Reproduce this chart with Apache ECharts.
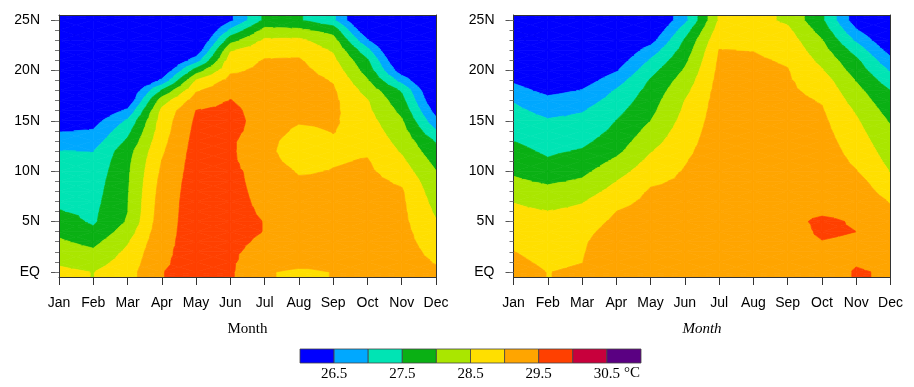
<!DOCTYPE html>
<html><head><meta charset="utf-8">
<script src="https://cdn.jsdelivr.net/npm/echarts@6/dist/echarts.min.js"></script>
<style>html,body{margin:0;padding:0;background:#fff}#c{width:914px;height:387px}</style>
</head><body><div id="c"></div>
<script>
// ---------- data ----------
const months = ['Jan','Feb','Mar','Apr','May','Jun','Jul','Aug','Sep','Oct','Nov','Dec'];
const lats = [0,1,2,3,4,5,6,7,8,9,10,11,12,13,14,15,16,17,18,19,20,21,22,23,24,25];
const latTicks = [0,5,10,15,20,25];
const latTickLabels = ['EQ','5N','10N','15N','20N','25N'];
const levels = [26.5,27,27.5,28,28.5,29,29.5,30,30.5];
const bandColors = ['#0000fe','#00a8ff','#00e4b4','#0ab014','#aae600','#ffdf00','#ffa500','#ff4000','#c8003c','#5a0082'];
const colorbarTicks = [26.5,27.5,28.5,29.5,30.5];
const panelLabels = ['(a)','(b)'];

// SST (°C) at each month (rows) and latitude 0..25N (columns), panel (a)
const sstA = [
 [28.6,28.43,28.25,28.07,27.89,27.72,27.52,27.42,27.37,27.29,27.2,27.1,27.01,26.76,26.47,26.2,25.95,25.75,25.6,25.45,25.3,25.2,25.1,25.0,24.9,24.8],
 [28.49,28.3,28.08,27.86,27.6,27.43,27.4,27.35,27.3,27.25,27.17,27.09,26.99,26.76,26.54,26.3,26.05,25.8,25.6,25.45,25.3,25.2,25.1,25.0,24.9,24.8],
 [28.8,28.7,28.6,28.45,28.25,28.05,27.99,27.98,27.96,27.94,27.92,27.88,27.8,27.58,27.35,27.08,26.6,26.1,25.9,25.7,25.5,25.35,25.2,25.1,25.0,24.9],
 [29.49,29.45,29.42,29.38,29.34,29.3,29.27,29.24,29.2,29.15,29.08,29.01,28.93,28.85,28.77,28.72,28.62,28.27,27.57,26.6,26.0,25.7,25.5,25.3,25.2,25.1],
 [29.62,29.64,29.66,29.68,29.7,29.72,29.73,29.74,29.74,29.74,29.73,29.72,29.7,29.67,29.63,29.58,29.51,29.25,28.95,28.55,27.74,26.75,26.1,25.7,25.5,25.3],
 [29.56,29.57,29.58,29.6,29.62,29.63,29.63,29.63,29.62,29.61,29.6,29.58,29.57,29.57,29.62,29.66,29.62,29.52,29.35,29.15,28.92,28.75,28.45,27.8,27.1,26.4],
 [29.04,29.2,29.33,29.43,29.49,29.49,29.45,29.41,29.38,29.35,29.33,29.2,29.15,29.2,29.3,29.3,29.28,29.25,29.2,29.15,29.1,29.03,28.85,28.58,28.15,27.6],
 [28.92,29.15,29.25,29.3,29.32,29.32,29.3,29.25,29.17,29.07,28.95,28.8,28.7,28.72,28.88,29.06,29.15,29.2,29.22,29.2,29.15,29.05,28.85,28.6,28.1,27.55],
 [29.01,29.1,29.15,29.18,29.2,29.2,29.18,29.15,29.1,29.05,29.02,28.96,28.93,28.95,29.02,29.07,29.1,29.1,29.06,28.97,28.8,28.62,28.45,28.2,27.8,27.1],
 [29.1,29.15,29.2,29.22,29.23,29.23,29.22,29.2,29.17,29.13,29.08,29.03,28.94,28.85,28.77,28.69,28.6,28.53,28.32,28.05,27.78,27.56,27.15,26.56,26.0,25.6],
 [29.2,29.2,29.19,29.17,29.15,29.12,29.1,29.08,29.05,28.93,28.75,28.6,28.45,28.33,28.2,28.06,27.87,27.67,27.45,26.82,26.2,25.8,25.5,25.3,25.2,25.1],
 [29.08,28.97,28.87,28.76,28.65,28.53,28.43,28.33,28.22,28.12,28.01,27.85,27.66,27.45,27.04,26.64,26.3,26.0,25.8,25.6,25.5,25.4,25.3,25.2,25.1,25.0]
];
// panel (b)
const sstB = [
 [29.2,29.1,29.01,28.9,28.8,28.7,28.6,28.48,28.28,28.08,27.92,27.78,27.64,27.5,27.37,27.24,27.11,26.97,26.7,26.42,26.2,26.0,25.8,25.7,25.6,25.5],
 [28.99,28.91,28.83,28.75,28.67,28.59,28.51,28.33,28.13,27.93,27.74,27.55,27.42,27.3,27.17,27.04,26.86,26.65,26.35,26.1,25.9,25.75,25.6,25.5,25.4,25.3],
 [29.07,28.99,28.96,28.93,28.86,28.76,28.6,28.47,28.27,28.06,27.88,27.71,27.54,27.38,27.25,27.12,26.97,26.77,26.53,26.25,26.0,25.85,25.7,25.55,25.45,25.35],
 [29.48,29.42,29.36,29.3,29.2,29.1,29.0,28.84,28.67,28.5,28.3,28.09,27.88,27.74,27.6,27.51,27.36,27.2,27.05,26.78,26.46,26.2,26.0,25.8,25.7,25.6],
 [29.4,29.38,29.35,29.31,29.27,29.23,29.18,29.12,29.05,28.93,28.78,28.63,28.47,28.31,28.16,28.0,27.88,27.78,27.67,27.55,27.33,27.06,26.72,26.3,26.0,25.8],
 [29.35,29.33,29.3,29.27,29.24,29.2,29.17,29.14,29.1,29.07,29.03,28.97,28.89,28.81,28.74,28.66,28.58,28.51,28.37,28.22,28.06,27.89,27.72,27.55,27.25,26.85],
 [29.3,29.3,29.3,29.3,29.3,29.3,29.3,29.3,29.3,29.3,29.3,29.3,29.3,29.28,29.26,29.24,29.22,29.2,29.18,29.15,29.11,29.07,29.01,28.88,28.72,28.56],
 [29.25,29.3,29.32,29.34,29.36,29.37,29.38,29.38,29.38,29.37,29.36,29.35,29.33,29.31,29.29,29.27,29.25,29.22,29.19,29.16,29.12,29.06,28.99,28.9,28.8,28.7],
 [29.3,29.33,29.36,29.38,29.35,29.41,29.41,29.41,29.4,29.38,29.36,29.34,29.31,29.28,29.24,29.2,29.16,29.12,29.08,29.05,29.02,28.95,28.85,28.74,28.6,28.4],
 [29.3,29.35,29.42,29.49,29.55,29.56,29.45,29.4,29.36,29.33,29.3,29.27,29.24,29.2,29.15,29.1,29.04,28.97,28.86,28.74,28.54,28.37,28.2,28.03,27.8,27.58],
 [29.53,29.47,29.44,29.45,29.5,29.47,29.42,29.35,29.26,29.17,29.02,28.92,28.83,28.74,28.65,28.56,28.45,28.3,28.15,27.98,27.78,27.6,27.3,26.92,26.55,26.2],
 [29.46,29.4,29.34,29.28,29.22,29.15,29.07,28.97,28.8,28.64,28.48,28.37,28.27,28.17,28.07,27.95,27.8,27.65,27.5,27.23,26.95,26.63,26.3,26.0,25.8,25.6]
];

// ---------- rendering helpers ----------
const yMin = -0.5, yMax = 25.5;
// latitude positions of cell edges (plot extends half a degree beyond data rows)
const yEdge = [yMin].concat(lats, [yMax]);
function valAt(field, i, k) {
  const idx = Math.min(Math.max(k - 1, 0), lats.length - 1);
  return field[i][idx];
}
function bandOf(v) { let b = 0; for (const l of levels) if (v >= l) b++; return b; }
function clip(poly, t, above) {
  const out = [];
  for (let a = 0; a < poly.length; a++) {
    const P = poly[a], Q = poly[(a + 1) % poly.length];
    const pin = above ? P[2] >= t : P[2] <= t;
    const qin = above ? Q[2] >= t : Q[2] <= t;
    if (pin) out.push(P);
    if (pin !== qin) {
      const s = (t - P[2]) / (Q[2] - P[2]);
      out.push([P[0] + s * (Q[0] - P[0]), P[1] + s * (Q[1] - P[1]), t]);
    }
  }
  return out;
}
function makeRender(field) {
  return function (params, api) {
    const i = api.value(0), k = api.value(1);
    const a = api.coord([i, yEdge[k]]), b = api.coord([i + 1, yEdge[k]]);
    const c = api.coord([i + 1, yEdge[k + 1]]), d = api.coord([i, yEdge[k + 1]]);
    const va = valAt(field, i, k), vb = valAt(field, i + 1, k);
    const vc = valAt(field, i + 1, k + 1), vd = valAt(field, i, k + 1);
    const P = [[a[0], a[1], va], [b[0], b[1], vb], [c[0], c[1], vc], [d[0], d[1], vd]];
    const C = [(a[0] + b[0] + c[0] + d[0]) / 4, (a[1] + b[1] + c[1] + d[1]) / 4, (va + vb + vc + vd) / 4];
    const children = [];
    for (let t = 0; t < 4; t++) {
      const tri = [P[t], P[(t + 1) % 4], C];
      const vs = tri.map(p => p[2]);
      const b0 = bandOf(Math.min.apply(null, vs)), b1 = bandOf(Math.max.apply(null, vs));
      for (let bd = b0; bd <= b1; bd++) {
        let poly = tri;
        if (bd > 0) poly = clip(poly, levels[bd - 1], true);
        if (bd < levels.length && poly.length) poly = clip(poly, levels[bd], false);
        if (poly.length >= 3) {
          children.push({
            type: 'polygon', silent: true,
            shape: { points: poly.map(p => [p[0], p[1]]) },
            style: { fill: bandColors[bd], stroke: bandColors[bd], lineWidth: 0.7 }
          });
        }
      }
    }
    return { type: 'group', children: children };
  };
}
function cells() {
  const out = [];
  for (let i = 0; i < months.length - 1; i++)
    for (let k = 0; k < yEdge.length - 1; k++) out.push([i, k]);
  return out;
}

const axisCol = '#333';
const lab = { color: '#000', fontFamily: 'Liberation Sans, Arial, sans-serif', fontSize: 14 };
function xAxesFor(g, italic) {
  return [
    { gridIndex: g, type: 'value', min: 0, max: 11, interval: 1, position: 'bottom',
      axisLine: { show: true, onZero: false, lineStyle: { color: axisCol, width: 1 } },
      axisTick: { show: true, length: 8, lineStyle: { color: axisCol } },
      axisLabel: Object.assign({ margin: 19, formatter: v => months[v] }, lab),
      splitLine: { show: false }, z: 10,
      name: 'Month', nameLocation: 'middle', nameGap: 45,
      nameTextStyle: { fontFamily: 'Liberation Serif, Times New Roman, serif', fontSize: 15, color: '#000', fontStyle: italic ? 'italic' : 'normal' } },
    { gridIndex: g, type: 'value', min: 0, max: 11, position: 'top',
      axisLine: { show: true, onZero: false, lineStyle: { color: axisCol, width: 1 } },
      axisTick: { show: false }, axisLabel: { show: false }, splitLine: { show: false }, z: 10 }
  ];
}
function yAxesFor(g) {
  return [
    { gridIndex: g, type: 'value', min: yMin, max: yMax, position: 'left',
      axisLine: { show: true, onZero: false, lineStyle: { color: axisCol, width: 1 } },
      axisTick: { show: true, length: 8, customValues: latTicks, lineStyle: { color: '#555' } },
      axisLabel: Object.assign({ margin: 19, customValues: latTicks,
        formatter: v => latTickLabels[latTicks.indexOf(v)] }, lab),
      splitLine: { show: false }, z: 10 },
    { gridIndex: g, type: 'value', min: yMin, max: yMax, position: 'left',
      axisLine: { show: false, onZero: false },
      axisTick: { show: true, length: 4, customValues: lats, lineStyle: { color: '#777' } },
      axisLabel: { show: false }, splitLine: { show: false }, z: 10 },
    { gridIndex: g, type: 'value', min: yMin, max: yMax, position: 'right',
      axisLine: { show: true, onZero: false, lineStyle: { color: axisCol, width: 1 } },
      axisTick: { show: false }, axisLabel: { show: false }, splitLine: { show: false }, z: 10 }
  ];
}

const cbBounds = [26].concat(levels, [31]);
const chart = echarts.init(document.getElementById('c'), null, { renderer: 'canvas' });
const option = {
  animation: false,
  backgroundColor: '#fff',
  grid: [
    { left: 59, top: 15, width: 377, height: 262 },
    { left: 513.5, top: 15, width: 377, height: 262 },
    { left: 300, top: 349, width: 341, height: 14 }
  ],
  xAxis: xAxesFor(0, false).concat(xAxesFor(1, true), [
    { gridIndex: 2, type: 'value', min: 26, max: 31, position: 'bottom',
      axisLine: { show: false, onZero: false }, axisTick: { show: false }, splitLine: { show: false },
      axisLabel: { customValues: colorbarTicks, formatter: v => v.toFixed(1), margin: 4,
        color: '#000', fontFamily: 'Liberation Serif, Times New Roman, serif', fontSize: 15 } }
  ]),
  yAxis: yAxesFor(0).concat(yAxesFor(1), [
    { gridIndex: 2, type: 'value', min: 0, max: 1, show: false }
  ]),
  series: [
    { type: 'custom', xAxisIndex: 0, yAxisIndex: 0, clip: true, z: 2,
      renderItem: makeRender(sstA), data: cells() },
    { type: 'custom', xAxisIndex: 2, yAxisIndex: 3, clip: true, z: 2,
      renderItem: makeRender(sstB), data: cells() },
    { type: 'custom', xAxisIndex: 4, yAxisIndex: 6, z: 2,
      data: bandColors.map((c, i) => [i]),
      renderItem: function (params, api) {
        const i = api.value(0);
        const p0 = api.coord([cbBounds[i], 1]), p1 = api.coord([cbBounds[i + 1], 0]);
        return { type: 'rect', shape: { x: p0[0], y: p0[1], width: p1[0] - p0[0], height: p1[1] - p0[1] },
          style: { fill: bandColors[i], stroke: '#444', lineWidth: 0.8 } };
      } }
  ],
  graphic: [
    { type: 'group', left: 59.5, top: 15.5, z: 100, children: [
      { type: 'rect', shape: { x: 0, y: 0, width: 35, height: 33 }, style: { fill: '#fff', stroke: '#888', lineWidth: 0.8 } },
      { type: 'text', x: 17.5, y: 17, style: { text: panelLabels[0], align: 'center', verticalAlign: 'middle', fill: '#000', font: '18px Liberation Sans, Arial, sans-serif' } }
    ] },
    { type: 'group', left: 514, top: 15.5, z: 100, children: [
      { type: 'rect', shape: { x: 0, y: 0, width: 35, height: 33 }, style: { fill: '#fff', stroke: '#888', lineWidth: 0.8 } },
      { type: 'text', x: 17.5, y: 17, style: { text: panelLabels[1], align: 'center', verticalAlign: 'middle', fill: '#000', font: '18px Liberation Sans, Arial, sans-serif' } }
    ] },
    { type: 'text', left: 624, top: 366, z: 100,
      style: { text: '°C', fill: '#000', font: '15px Liberation Serif, Times New Roman, serif' } }
  ]
};
chart.setOption(option);
</script></body></html>
